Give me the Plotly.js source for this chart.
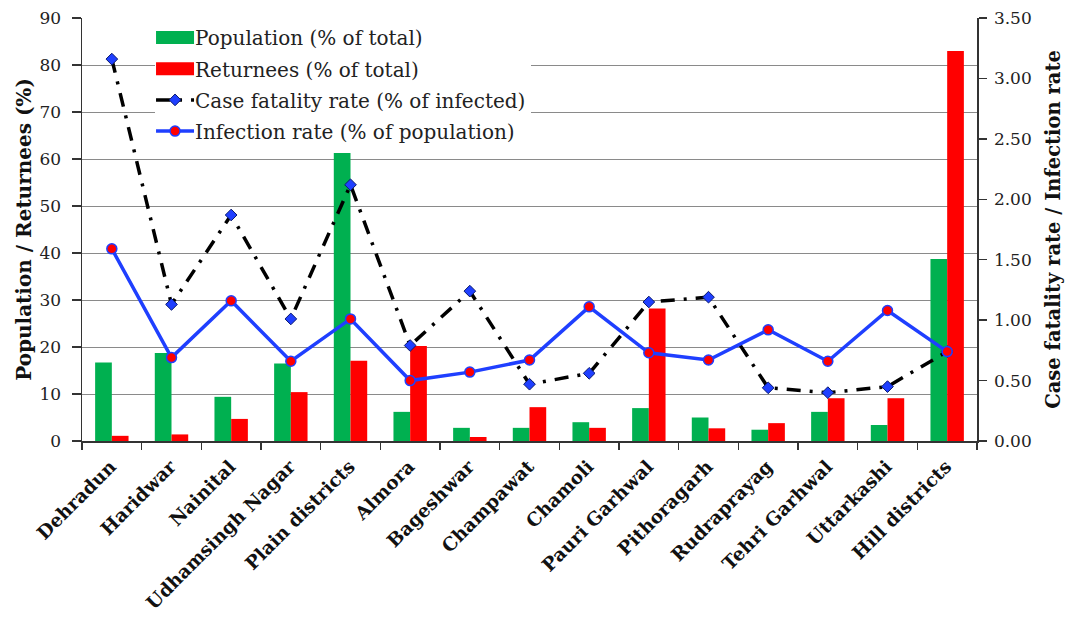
<!DOCTYPE html>
<html>
<head>
<meta charset="utf-8">
<script src="https://cdn.plot.ly/plotly-3.0.1.min.js"></script>
<style>
  html, body { margin: 0; padding: 0; background: #fff; }
  #chart { width: 1072px; height: 619px; }
</style>
</head>
<body>
<div id="chart"></div>
<script>
// Districts of Uttarakhand, plains first, then hills
const districts = [
  "Dehradun", "Haridwar", "Nainital", "Udhamsingh Nagar", "Plain districts",
  "Almora", "Bageshwar", "Champawat", "Chamoli", "Pauri Garhwal",
  "Pithoragarh", "Rudraprayag", "Tehri Garhwal", "Uttarkashi", "Hill districts"
];

// Share of state population (%)
const populationPct = [16.7, 18.7, 9.4, 16.5, 61.3, 6.2, 2.8, 2.8, 4.0, 7.0, 5.0, 2.4, 6.2, 3.4, 38.7];

// Share of returnees (%)
const returneesPct = [1.1, 1.4, 4.7, 10.4, 17.1, 20.2, 0.85, 7.2, 2.8, 28.2, 2.7, 3.8, 9.1, 9.1, 83.0];

// Case fatality rate (% of infected)
const caseFatality = [3.16, 1.13, 1.87, 1.01, 2.12, 0.79, 1.24, 0.47, 0.56, 1.15, 1.19, 0.44, 0.40, 0.45, 0.74];

// Infection rate (% of population)
const infectionRate = [1.59, 0.69, 1.16, 0.66, 1.01, 0.50, 0.57, 0.67, 1.11, 0.73, 0.67, 0.92, 0.66, 1.08, 0.74];

const serif = "DejaVu Serif, Liberation Serif, serif";

const traces = [
  {
    type: "bar", name: "Population (% of total)", x: districts, y: populationPct,
    marker: { color: "#00b050" }, legendgroup: "a"
  },
  {
    type: "bar", name: "Returnees (% of total)", x: districts, y: returneesPct,
    marker: { color: "#ff0000" }, legendgroup: "b"
  },
  {
    type: "scatter", mode: "lines+markers", name: "Case fatality rate (% of infected)",
    x: districts, y: caseFatality, yaxis: "y2", legendgroup: "c",
    line: { color: "#000000", width: 3.5, dash: "14px,9px,3px,9px" },
    marker: { symbol: "diamond", size: 9, color: "#1f3fff", line: { color: "#0a1a6e", width: 1 } }
  },
  {
    type: "scatter", mode: "lines+markers", name: "Infection rate (% of population)",
    x: districts, y: infectionRate, yaxis: "y2", legendgroup: "d",
    line: { color: "#1f3fff", width: 3.5 },
    marker: { symbol: "circle", size: 10, color: "#ff0000", line: { color: "#1f3fff", width: 1.5 } }
  }
];

const layout = {
  width: 1072, height: 619,
  margin: { l: 82, r: 95, t: 18, b: 178 },
  paper_bgcolor: "#ffffff", plot_bgcolor: "#ffffff",
  font: { family: serif, size: 17, color: "#222" },
  barmode: "group", bargap: 0.44, bargroupgap: 0,
  showlegend: true,
  legend: {
    x: 0.0816, y: 1.0, xanchor: "left", yanchor: "top",
    bgcolor: "#ffffff", borderwidth: 0,
    traceorder: "grouped", tracegroupgap: 2.2,
    font: { family: serif, size: 20, color: "#222" }
  },
  xaxis: {
    type: "category", range: [-0.5, 14.5], tickangle: -45, tickson: "boundaries",
    ticks: "outside", ticklen: 7, tickcolor: "#333", tickwidth: 1.5,
    ticklabelstandoff: 6, ticklabelshift: -1,
    showline: true, linecolor: "#333", linewidth: 1.5,
    showgrid: false,
    tickfont: { family: serif, size: 18.5, color: "#111", weight: "bold" }
  },
  yaxis: {
    range: [0, 90], dtick: 10, tick0: 0,
    ticks: "outside", ticklen: 9, tickcolor: "#333", tickwidth: 1.5,
    ticklabelstandoff: 7,
    showline: true, linecolor: "#333", linewidth: 1.5,
    showgrid: true, gridcolor: "#8a8a8a", gridwidth: 1,
    zeroline: false,
    tickfont: { family: serif, size: 17, color: "#222" },
    title: { text: "Population / Returnees (%)", standoff: 2,
             font: { family: serif, size: 20, color: "#111", weight: "bold" } }
  },
  yaxis2: {
    overlaying: "y", side: "right", range: [0, 3.5], dtick: 0.5, tick0: 0,
    tickformat: ".2f",
    ticks: "outside", ticklen: 8, tickcolor: "#333", tickwidth: 1.5,
    ticklabelstandoff: 4,
    showline: true, linecolor: "#333", linewidth: 1.5,
    showgrid: false, zeroline: false,
    tickfont: { family: serif, size: 17, color: "#222" },
    title: { text: "Case fatality rate / Infection rate", standoff: 15,
             font: { family: serif, size: 19.5, color: "#111", weight: "bold" } }
  }
};

// Long legend samples: wide bar blocks and longer line strokes
function widenLegendSwatches(gd) {
  gd.querySelectorAll(".legend .legendpoints path").forEach(function (p) {
    if (!p.classList.contains("scatterpts")) {
      p.setAttribute("d", "M19,6.5H-19V-6.5H19Z");
    }
  });
  gd.querySelectorAll(".legend .legendlines path").forEach(function (p) {
    p.setAttribute("d", "M1,0h38");
  });
}

const gd = document.getElementById("chart");
Plotly.newPlot(gd, traces, layout, { displayModeBar: false, staticPlot: true }).then(function () {
  widenLegendSwatches(gd);
  gd.on("plotly_afterplot", function () { widenLegendSwatches(gd); });
  setTimeout(function () { widenLegendSwatches(gd); }, 0);
  setTimeout(function () { widenLegendSwatches(gd); }, 50);
});
</script>
</body>
</html>
